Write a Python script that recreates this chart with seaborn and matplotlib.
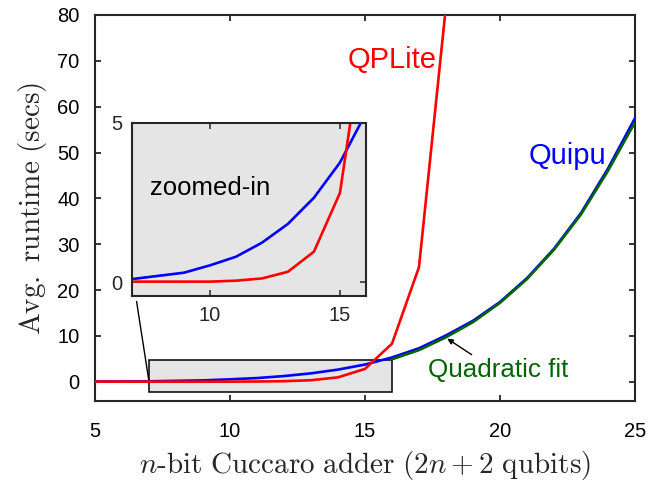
import matplotlib
matplotlib.use("Agg")
import matplotlib.pyplot as plt
import seaborn as sns
import pandas as pd

# Average runtime (secs) for the n-bit Cuccaro adder
n_bits = [5, 6, 7, 8, 9, 10, 11, 12, 13, 14, 15, 16, 17, 18, 19, 20, 21, 22, 23, 24, 25]
quipu = [0.05, 0.07, 0.10, 0.20, 0.30, 0.53, 0.80, 1.24, 1.83, 2.65, 3.75, 5.3,
         7.3, 10.1, 13.3, 17.4, 22.6, 29.0, 36.8, 46.5, 57.5]

qplite_bits = [5, 6, 7, 8, 9, 10, 11, 12, 13, 14, 15, 16, 17, 18]
qplite = [0.02, 0.02, 0.02, 0.02, 0.02, 0.02, 0.05, 0.12, 0.33, 0.96, 2.8, 8.3, 25.0, 82.0]

fit_bits = [16, 17, 18, 19, 20, 21, 22, 23, 24, 25]
quad_fit = [4.9, 6.9, 9.7, 13.0, 17.2, 22.4, 28.8, 36.5, 46.0, 56.6]

x_ticks = [5, 10, 15, 20, 25]
y_ticks = [0, 10, 20, 30, 40, 50, 60, 70, 80]
inset_x_ticks = [10, 15]
inset_y_ticks = [0, 5]

RED = "#ff0000"
BLUE = "#0000ff"
GREEN = "#006400"
GRAY = "#e5e5e5"

sns.set_style("ticks")
plt.rcParams["font.family"] = ["Liberation Sans", "DejaVu Sans"]
plt.rcParams["mathtext.fontset"] = "cm"
plt.rcParams["axes.linewidth"] = 1.5
plt.rcParams["xtick.direction"] = "in"
plt.rcParams["ytick.direction"] = "in"
plt.rcParams["xtick.top"] = True
plt.rcParams["ytick.right"] = True

df_q = pd.DataFrame({"n": n_bits, "t": quipu})
df_p = pd.DataFrame({"n": qplite_bits, "t": qplite})
df_f = pd.DataFrame({"n": fit_bits, "t": quad_fit})

fig = plt.figure(figsize=(6.53, 4.87), dpi=100)
ax = fig.add_axes([0.1455, 0.1766, 0.8269, 0.7926])

lw = 1.9
sns.lineplot(data=df_q, x="n", y="t", ax=ax, color=BLUE, lw=lw, zorder=3)
sns.lineplot(data=df_f, x="n", y="t", ax=ax, color=GREEN, lw=lw, zorder=4)
sns.lineplot(data=df_p, x="n", y="t", ax=ax, color=RED, lw=lw, zorder=5)

ax.set_xlim(5, 25)
ax.set_ylim(-4.2, 80)
ax.set_xticks(x_ticks)
ax.set_yticks(y_ticks)
ax.tick_params(labelsize=14.5, length=4, width=1.1, colors="black")
ax.tick_params(axis="x", pad=15)
ax.tick_params(axis="y", pad=11)

ax.set_xlabel(r"$n\mathrm{\text{-}bit\ Cuccaro\ adder\ }(2n+2\mathrm{\ qubits})$",
              fontsize=21, labelpad=6)
ax.set_ylabel(r"$\mathrm{Avg.\ runtime\ (secs)}$", fontsize=21, labelpad=6)

# Zoom region marker and its connector to the inset
ax.add_patch(plt.Rectangle((7, -2.2), 9, 7.0, facecolor=GRAY, edgecolor="black",
                           lw=1.1, zorder=2))
ax.plot([6.54, 7.0], [17.5, 0.0], color="black", lw=1.0, zorder=2)

ax.text(16.0, 70.2, "QPLite", color=RED, fontsize=21, ha="center", va="center")
ax.text(22.5, 49.2, "Quipu", color=BLUE, fontsize=21, ha="center", va="center")
ax.text(19.95, 2.6, "Quadratic fit", color=GREEN, fontsize=18.7, ha="center", va="center")
ax.annotate("", xy=(18.05, 9.4), xytext=(18.95, 5.9),
            arrowprops=dict(arrowstyle="-|>", color="black", lw=1.0,
                            mutation_scale=8, shrinkA=0, shrinkB=0))

# Inset: low-n detail
ins = fig.add_axes([0.2021, 0.3922, 0.3583, 0.3559])
ins.set_facecolor(GRAY)
sns.lineplot(data=df_q, x="n", y="t", ax=ins, color=BLUE, lw=lw)
sns.lineplot(data=df_p, x="n", y="t", ax=ins, color=RED, lw=lw)
ins.set_xlim(7, 16)
ins.set_ylim(-0.43, 5)
ins.set_xticks(inset_x_ticks)
ins.set_yticks(inset_y_ticks)
ins.tick_params(labelsize=14.5, length=4, width=1.1)
ins.tick_params(axis="x", pad=7)
ins.tick_params(axis="y", pad=7)
ins.set_xlabel("")
ins.set_ylabel("")
ins.text(10.0, 2.94, "zoomed-in", fontsize=18.5, ha="center", va="center", color="black")

fig.savefig("out.png", dpi=100)
